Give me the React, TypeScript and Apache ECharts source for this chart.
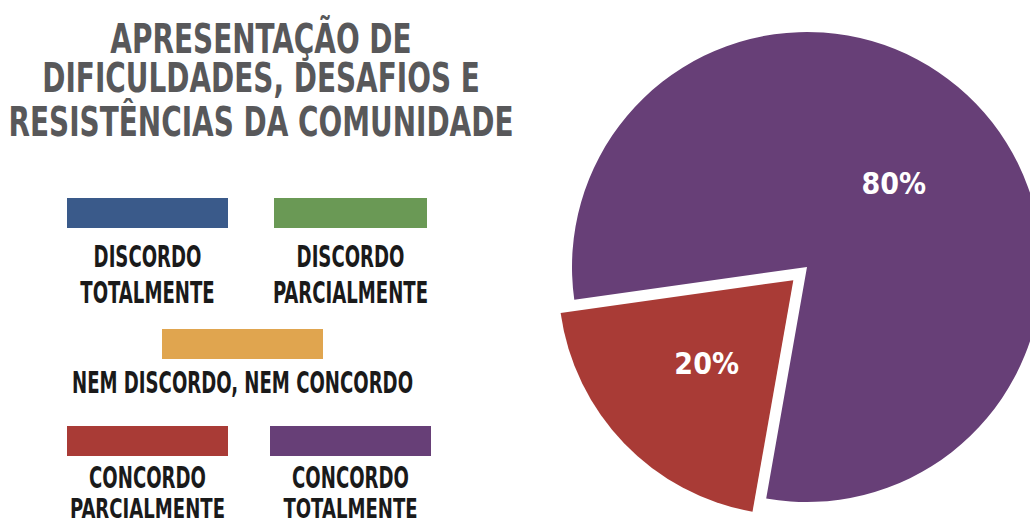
import React, { useEffect, useRef } from "react";
import * as echarts from "echarts";

// ---- data ----
const categories = [
  "DISCORDO TOTALMENTE",
  "DISCORDO PARCIALMENTE",
  "NEM DISCORDO, NEM CONCORDO",
  "CONCORDO PARCIALMENTE",
  "CONCORDO TOTALMENTE",
];
const values = [0, 0, 0, 20, 80];
const colors = ["#3a5a8a", "#6a9955", "#e0a54f", "#a93b36", "#673f77"];
const titleLines = ["APRESENTAÇÃO DE", "DIFICULDADES, DESAFIOS E", "RESISTÊNCIAS DA COMUNIDADE"];
const legendLines = [
  ["DISCORDO", "TOTALMENTE"],
  ["DISCORDO", "PARCIALMENTE"],
  ["NEM DISCORDO, NEM CONCORDO"],
  ["CONCORDO", "PARCIALMENTE"],
  ["CONCORDO", "TOTALMENTE"],
];

// ---- layout (positions only) ----
const FONT = '"Liberation Sans Narrow", "DejaVu Sans Condensed", "Roboto", sans-serif';
const legendLayout = [
  { cx: 147.5, w: 161, y: 198, textY: [256, 292.5], size: [30, 30] },
  { cx: 350.5, w: 153, y: 198, textY: [256, 292.5], size: [30, 30] },
  { cx: 242.5, w: 161, y: 329, textY: [382.5], size: [30] },
  { cx: 147.5, w: 161, y: 426, textY: [477, 509], size: [30, 27] },
  { cx: 350.5, w: 161, y: 426, textY: [477, 509], size: [30, 27] },
];
const titleLayout = { cx: 261, y: [39, 78, 122.5] };

function measure(text: string, size: number): number {
  const c = document.createElement("canvas").getContext("2d");
  if (!c) return text.length * size * 0.5;
  c.font = `bold ${size}px ${FONT}`;
  return c.measureText(text).width;
}

export default function App() {
  const ref = useRef<HTMLDivElement>(null);
  useEffect(() => {
    if (!ref.current) return;
    const chart = echarts.init(ref.current, null, { renderer: "svg" });

    const titleSize = 40;
    const titleScale = 505 / measure(titleLines[2], titleSize);
    const legSize = 30;
    const legScale = 341 / measure(legendLines[2][0], legSize);

    const graphics: any[] = [];
    titleLines.forEach((t, i) => {
      graphics.push({
        type: "text",
        x: titleLayout.cx,
        y: titleLayout.y[i],
        scaleX: titleScale,
        style: {
          text: t,
          fill: "#58585a",
          font: `bold ${titleSize}px ${FONT}`,
          align: "center",
          verticalAlign: "middle",
        },
      });
    });
    categories.forEach((c, i) => {
      const l = legendLayout[i];
      graphics.push({
        type: "rect",
        shape: { x: l.cx - l.w / 2, y: l.y, width: l.w, height: 30 },
        style: { fill: colors[i] },
      });
      legendLines[i].forEach((line, j) => {
        const sz = l.size[j];
        graphics.push({
          type: "text",
          x: l.cx,
          y: l.textY[j],
          scaleX: legScale * (legSize / sz),
          style: {
            text: line,
            fill: "#1a1a1a",
            font: `bold ${sz}px ${FONT}`,
            align: "center",
            verticalAlign: "middle",
          },
        });
      });
    });

    chart.setOption({
      animation: false,
      graphic: graphics,
      series: [
        {
          type: "pie",
          center: [807, 267],
          radius: 235,
          startAngle: 260,
          clockwise: true,
          selectedMode: "single",
          selectedOffset: 19,
          avoidLabelOverlap: false,
          label: {
            show: true,
            position: "inside",
            color: "#ffffff",
            fontFamily: FONT,
            fontWeight: "bold",
            fontSize: 30,
            formatter: (p: any) => (p.value ? `${Math.round(p.percent)}%` : ""),
          },
          labelLine: { show: false },
          itemStyle: { borderWidth: 0 },
          emphasis: { disabled: true },
          data: categories.map((name, i) => ({
            name,
            value: values[i],
            selected: i === 3,
            itemStyle: { color: colors[i] },
          })),
        },
      ],
    });
    return () => chart.dispose();
  }, []);
  return (
    <div
      ref={ref}
      style={{ position: "fixed", left: 0, top: 0, width: 1030, height: 526, background: "#ffffff" }}
    />
  );
}
